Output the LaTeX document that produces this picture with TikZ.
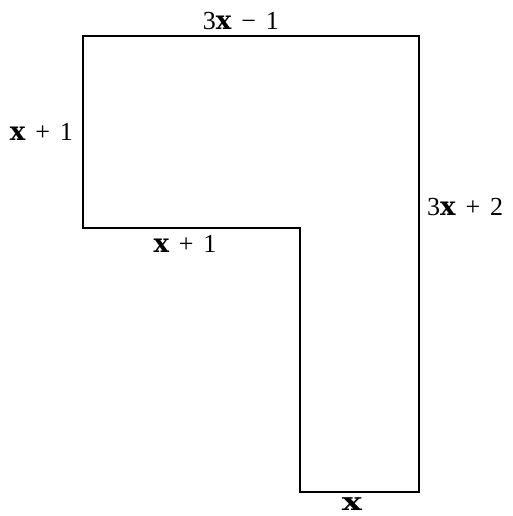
\documentclass[tikz,border=0pt]{standalone}
\usepackage{fontspec}
\setmainfont{Liberation Serif}
\newfontfamily\varfont{DejaVu Serif}
\usepackage{tikz}
\usetikzlibrary{positioning, calc}

\newcommand{\vx}{{\varfont\bfseries x}}

\begin{document}
\begin{tikzpicture}[
    x=1pt, y=-1pt,
    edge/.style={draw=black, line width=1.4pt, line join=miter},
    lbl/.style={font=\fontsize{26}{29}\selectfont, inner sep=2pt}
]
    \useasboundingbox (0,0) rectangle (512,516);

    % corners of the L
    \coordinate (tl) at (83,36);
    \coordinate (tr) at (419,36);
    \coordinate (br) at (419,492);
    \coordinate (bl) at (300,492);
    \coordinate (in) at (300,228);
    \coordinate (ml) at (83,228);

    \draw[edge] (tl) -- (tr) -- (br) -- (bl) -- (in) -- (ml) -- cycle;

    % side lengths
    \node[lbl, above=4pt of $(tl)!0.47!(tr)$] (top) {3\vx\hspace{0.38em}−\hspace{0.38em}1};
    \node[lbl, left=8pt of $(tl)!0.5!(ml)$] (left) {\vx\hspace{0.38em}+\hspace{0.38em}1};
    \node[lbl, right=6pt of $(tr)!0.376!(br)$] (right) {3\vx\hspace{0.38em}+\hspace{0.38em}2};
    \node[lbl, below=5pt of $(ml)!0.47!(in)$] (step) {\vx\hspace{0.38em}+\hspace{0.38em}1};
    \node[lbl, below=3pt of $(bl)!0.437!(br)$] (foot) {\scalebox{1.3}[0.95]{\vx}};

\end{tikzpicture}
\end{document}
